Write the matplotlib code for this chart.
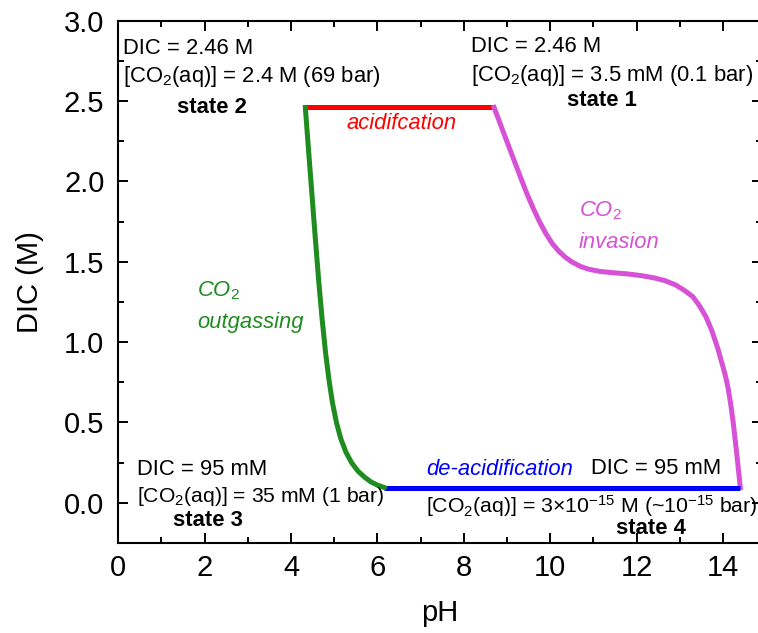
import matplotlib
matplotlib.use("Agg")
import matplotlib.pyplot as plt
from matplotlib.ticker import MultipleLocator, FormatStrFormatter

plt.rcParams['font.family'] = ['Liberation Sans', 'DejaVu Sans']
plt.rcParams['mathtext.fontset'] = 'custom'
plt.rcParams['mathtext.rm'] = 'Liberation Sans'
plt.rcParams['mathtext.it'] = 'Liberation Sans:italic'
plt.rcParams['mathtext.bf'] = 'Liberation Sans:bold'

# Cycle legs: (pH, DIC in M)
acid_ph = [4.33, 8.70]
acid_dic = [2.46, 2.46]

invasion_ph = [8.70, 8.85, 9.00, 9.15, 9.30, 9.45, 9.60, 9.75, 9.90, 10.05,
               10.20, 10.35, 10.50, 10.70, 10.90, 11.15, 11.45, 11.80, 12.10,
               12.40, 12.65, 12.90, 13.10, 13.30, 13.45, 13.60, 13.74, 13.88,
               14.00, 14.06, 14.12, 14.18, 14.24, 14.32, 14.40]
invasion_dic = [2.460, 2.353, 2.246, 2.140, 2.034, 1.930, 1.836, 1.750, 1.675, 1.612,
                1.565, 1.528, 1.499, 1.471, 1.453, 1.440, 1.432, 1.424, 1.414,
                1.400, 1.383, 1.356, 1.323, 1.283, 1.228, 1.160, 1.072, 0.960,
                0.845, 0.785, 0.710, 0.610, 0.490, 0.300, 0.095]

deacid_ph = [6.16, 14.40]
deacid_dic = [0.095, 0.095]

outgas_ph = [4.33, 4.40, 4.48, 4.56, 4.64, 4.72, 4.80, 4.88, 4.96, 5.05,
             5.15, 5.27, 5.40, 5.55, 5.70, 5.85, 6.00, 6.16]
outgas_dic = [2.46, 2.21, 1.93, 1.65, 1.38, 1.14, 0.93, 0.76, 0.62, 0.50,
              0.40, 0.315, 0.25, 0.197, 0.16, 0.13, 0.11, 0.095]

W, H = 758, 633
fig = plt.figure(figsize=(W / 100, H / 100), dpi=100)
ax = fig.add_axes([118.3 / W, (H - 543) / H, 643.6 / W, 522.3 / H])

lw = 3.6
ax.plot(acid_ph, acid_dic, color='#ff0000', lw=lw, solid_capstyle='butt', zorder=3)
ax.plot(invasion_ph, invasion_dic, color='#d651d6', lw=lw, solid_joinstyle='round', zorder=3)
ax.plot(deacid_ph, deacid_dic, color='#0000ff', lw=lw, solid_capstyle='butt', zorder=3)
ax.plot(outgas_ph, outgas_dic, color='#1f8c1f', lw=lw, solid_joinstyle='round', zorder=3)

ax.set_xlim(0, 14.9)
ax.set_ylim(-0.25, 3.0)
ax.set_xticks(range(0, 15, 2))
ax.xaxis.set_minor_locator(MultipleLocator(1))
ax.yaxis.set_major_locator(MultipleLocator(0.5))
ax.yaxis.set_minor_locator(MultipleLocator(0.25))
ax.yaxis.set_major_formatter(FormatStrFormatter('%.1f'))

ax.tick_params(which='both', direction='in', top=True, right=True, width=1.4)
ax.tick_params(which='major', length=7.5, labelsize=21, pad=8)
ax.tick_params(which='minor', length=4)
ax.tick_params(axis='y', which='major', pad=10)
for s in ax.spines.values():
    s.set_linewidth(1.5)

ax.set_xlabel('pH', fontsize=21, labelpad=12)
ax.set_ylabel('DIC (M)', fontsize=21, labelpad=14)

fs = 15.8
# state 2
ax.text(0.11, 2.83, 'DIC = 2.46 M', fontsize=fs, va='center')
ax.text(0.11, 2.65, r'[CO$_2$(aq)] = 2.4 M (69 bar)', fontsize=fs, va='center')
ax.text(1.35, 2.46, 'state 2', fontsize=fs, fontweight='bold', va='center')
# state 1
ax.text(8.16, 2.84, 'DIC = 2.46 M', fontsize=fs, va='center')
ax.text(8.16, 2.66, r'[CO$_2$(aq)] = 3.5 mM (0.1 bar)', fontsize=fs, va='center')
ax.text(10.39, 2.506, 'state 1', fontsize=fs, fontweight='bold', va='center')
# state 3
ax.text(0.43, 0.206, 'DIC = 95 mM', fontsize=fs, va='center')
ax.text(0.43, 0.037, r'[CO$_2$(aq)] = 35 mM (1 bar)', fontsize=15.2, va='center')
ax.text(1.26, -0.112, 'state 3', fontsize=fs, fontweight='bold', va='center')
# state 4
ax.text(10.94, 0.212, 'DIC = 95 mM', fontsize=fs, va='center')
ax.text(7.13, -0.02, r'[CO$_2$(aq)] = 3×10$^{-15}$ M (~10$^{-15}$ bar)', fontsize=15.3,
        va='center')
ax.text(11.52, -0.16, 'state 4', fontsize=fs, fontweight='bold', va='center')

# process labels
ax.text(6.55, 2.36, 'acidifcation', fontsize=fs, style='italic', color='#ff0000',
        ha='center', va='center')
ax.text(7.13, 0.206, 'de-acidification', fontsize=fs, style='italic', color='#0000ff',
        va='center')
ax.text(10.66, 1.82, r'$\mathit{CO_2}$', fontsize=fs, color='#d651d6', va='center')
ax.text(10.66, 1.62, 'invasion', fontsize=fs, style='italic', color='#d651d6', va='center')
ax.text(1.82, 1.32, r'$\mathit{CO_2}$', fontsize=fs, color='#1f8c1f', va='center')
ax.text(1.82, 1.12, 'outgassing', fontsize=fs, style='italic', color='#1f8c1f', va='center')

fig.savefig('out.png', dpi=100)
